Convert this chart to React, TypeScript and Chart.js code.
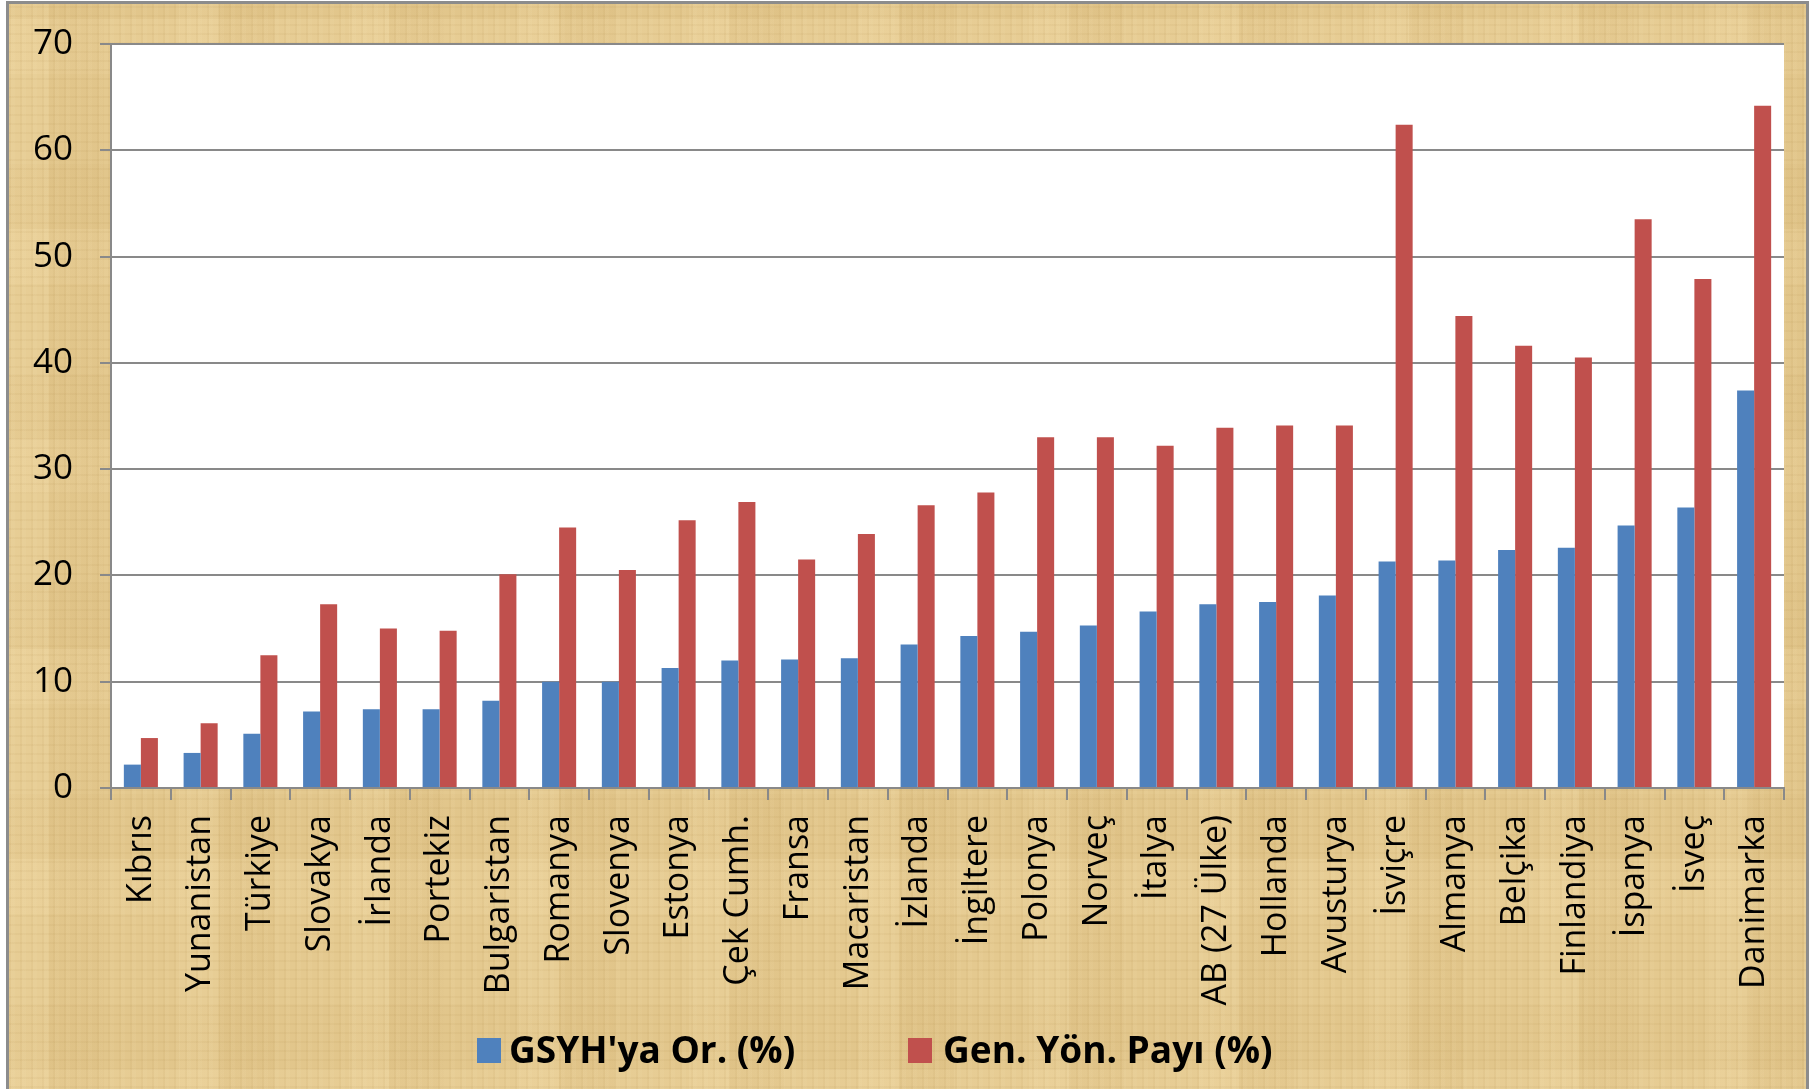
import React, { useEffect, useRef } from "react";
import { Chart, registerables } from "chart.js";

Chart.register(...registerables);

const categories = [
  "Kıbrıs", "Yunanistan", "Türkiye", "Slovakya", "İrlanda", "Portekiz", "Bulgaristan",
  "Romanya", "Slovenya", "Estonya", "Çek Cumh.", "Fransa", "Macaristan", "İzlanda",
  "İngiltere", "Polonya", "Norveç", "İtalya", "AB (27 Ülke)", "Hollanda", "Avusturya",
  "İsviçre", "Almanya", "Belçika", "Finlandiya", "İspanya", "İsveç", "Danimarka",
];

const gdpShare = [
  2.2, 3.3, 5.1, 7.2, 7.4, 7.4, 8.2, 10.0, 10.0, 11.3, 12.0, 12.1, 12.2, 13.5,
  14.3, 14.7, 15.3, 16.6, 17.3, 17.5, 18.1, 21.3, 21.4, 22.4, 22.6, 24.7, 26.4, 37.4,
];

const govShare = [
  4.7, 6.1, 12.5, 17.3, 15.0, 14.8, 20.1, 24.5, 20.5, 25.2, 26.9, 21.5, 23.9, 26.6,
  27.8, 33.0, 33.0, 32.2, 33.9, 34.1, 34.1, 62.4, 44.4, 41.6, 40.5, 53.5, 47.9, 64.2,
];

const seriesNames = ["GSYH'ya Or. (%)", "Gen. Yön. Payı (%)"];
const seriesColors = ["#4f81bd", "#c0504d"];
const yMin = 0;
const yMax = 70;
const yStep = 10;

const GRID = "#898989";

const whitePlot = {
  id: "whitePlot",
  beforeDraw(chart: any) {
    const { ctx, chartArea } = chart;
    ctx.save();
    ctx.fillStyle = "#ffffff";
    ctx.fillRect(chartArea.left, chartArea.top, chartArea.right - chartArea.left, chartArea.bottom - chartArea.top);
    ctx.restore();
  },
};

export default function App() {
  const ref = useRef<HTMLCanvasElement | null>(null);

  useEffect(() => {
    if (!ref.current) return;
    const chart = new Chart(ref.current, {
      type: "bar",
      data: {
        labels: categories,
        datasets: [
          { label: seriesNames[0], data: gdpShare, backgroundColor: seriesColors[0], categoryPercentage: 0.57, barPercentage: 1 },
          { label: seriesNames[1], data: govShare, backgroundColor: seriesColors[1], categoryPercentage: 0.57, barPercentage: 1 },
        ],
      },
      options: {
        responsive: false,
        animation: false,
        devicePixelRatio: 1,
        layout: { padding: { left: 0, top: 44, right: 32, bottom: 51 } },
        plugins: { legend: { display: false }, tooltip: { enabled: false } },
        scales: {
          x: {
            offset: true,
            grid: { display: true, drawOnChartArea: false, drawTicks: true, tickLength: 12, color: GRID, lineWidth: 2, offset: true },
            border: { display: true, color: GRID, width: 2 },
            ticks: {
              autoSkip: false,
              minRotation: 90,
              maxRotation: 90,
              padding: 15,
              color: "#000",
              font: { family: "'Open Sans'", size: 34 },
            },
            afterFit: (s: any) => { s.height = 250; },
          },
          y: {
            min: yMin,
            max: yMax,
            grid: { color: GRID, lineWidth: 2, tickLength: 11, drawTicks: true },
            border: { display: true, color: GRID, width: 2 },
            ticks: {
              stepSize: yStep,
              padding: 27,
              color: "#000",
              font: { family: "'Open Sans'", size: 35 },
            },
            afterFit: (s: any) => {
              s.width = 111;
              s.paddingTop = 22;
              s.paddingBottom = 22;
            },
          },
        },
      },
      plugins: [whitePlot],
    });
    return () => chart.destroy();
  }, []);

  const parchment =
    "repeating-linear-gradient(90deg, rgba(150,110,40,0.05) 0px, rgba(150,110,40,0.05) 2px, rgba(255,240,200,0.06) 2px, rgba(255,240,200,0.06) 6px, transparent 6px, transparent 11px)," +
    "repeating-linear-gradient(0deg, rgba(140,100,30,0.05) 0px, rgba(140,100,30,0.05) 2px, transparent 2px, transparent 9px)," +
    "repeating-linear-gradient(90deg, rgba(255,235,190,0.12) 0px, rgba(255,235,190,0.12) 40px, rgba(190,150,80,0.07) 40px, rgba(190,150,80,0.07) 95px, transparent 95px, transparent 170px)," +
    "repeating-linear-gradient(0deg, rgba(255,235,190,0.10) 0px, rgba(255,235,190,0.10) 55px, rgba(190,150,80,0.06) 55px, rgba(190,150,80,0.06) 120px, transparent 120px, transparent 210px)," +
    "#e4c98f";

  const legendText: React.CSSProperties = {
    position: "absolute",
    top: 1026,
    fontFamily: "'Open Sans', sans-serif",
    fontWeight: 700,
    fontSize: 37,
    lineHeight: "46px",
    color: "#000",
    whiteSpace: "nowrap",
  };

  return (
    <div style={{ position: "fixed", left: 0, top: 0, width: 1816, height: 1089, background: "#ffffff", overflow: "hidden" }}>
      <div
        style={{
          position: "absolute",
          left: 6,
          top: 1,
          width: 1797,
          height: 1120,
          border: "3px solid #8c8c8c",
          background: parchment,
        }}
      />
      <canvas ref={ref} width={1816} height={1089} style={{ position: "absolute", left: 0, top: 0, width: 1816, height: 1089 }} />
      <div style={{ position: "absolute", left: 477, top: 1038, width: 24, height: 25, background: seriesColors[0] }} />
      <div style={{ ...legendText, left: 509 }}>{seriesNames[0]}</div>
      <div style={{ position: "absolute", left: 908, top: 1038, width: 24, height: 25, background: seriesColors[1] }} />
      <div style={{ ...legendText, left: 943 }}>{seriesNames[1]}</div>
    </div>
  );
}
